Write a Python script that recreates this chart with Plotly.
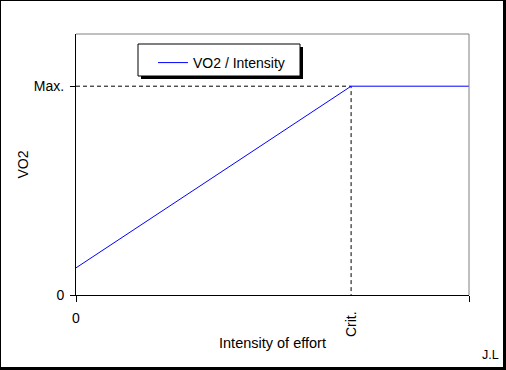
import plotly.graph_objects as go

# data (arbitrary units)
intensity = [0, 7, 10]
vo2 = [1.3, 10, 10]
guide_x = [0, 7, 7]
guide_y = [10, 10, 0]
ytick_vals = [0, 10]
ytick_text = ["0", "Max."]
xtick_vals = [0, 10]
xtick_text = ["0", ""]
crit_x = 7

W, H = 506, 370
L, R, T, B = 76, 469, 34, 295

def px(x):
    return (x - L) / (R - L)

def py(y):
    return (B - y) / (B - T)

FONT = "Liberation Sans, Arial, sans-serif"

fig = go.Figure()
fig.add_trace(go.Scatter(x=guide_x, y=guide_y, mode="lines",
                         line=dict(color="black", width=1, dash="4px,3px"),
                         showlegend=False, hoverinfo="skip"))
fig.add_trace(go.Scatter(x=intensity, y=vo2, mode="lines", name="VO2 / Intensity",
                         line=dict(color="#0000FF", width=1)))

shapes = [
    # white card inside black frame (paper is black)
    dict(type="rect", xref="paper", yref="paper", x0=px(1), x1=px(503), y0=py(1), y1=py(367),
         fillcolor="white", line=dict(width=0), layer="below"),
    # top & right gray borders
    dict(type="line", xref="paper", yref="paper", x0=0, x1=1, y0=1, y1=1,
         line=dict(color="#808080", width=1)),
    dict(type="line", xref="paper", yref="paper", x0=1, x1=1, y0=0, y1=1,
         line=dict(color="#808080", width=1)),
    # legend shadow + box
    dict(type="rect", xref="paper", yref="paper", x0=px(141), x1=px(303), y0=py(47), y1=py(79),
         fillcolor="black", line=dict(width=0)),
    dict(type="rect", xref="paper", yref="paper", x0=px(138), x1=px(300), y0=py(44), y1=py(76),
         fillcolor="white", line=dict(color="black", width=1)),
]

fig.update_layout(
    width=W, height=H,
    margin=dict(l=L, r=W - R, t=T, b=H - B),
    paper_bgcolor="black", plot_bgcolor="white",
    font=dict(family=FONT, size=14, color="black"),
    showlegend=True,
    legend=dict(x=px(153), y=py(47), xanchor="left", yanchor="top",
                bgcolor="rgba(0,0,0,0)", borderwidth=0, font=dict(size=14)),
    shapes=shapes,
    xaxis=dict(range=[0, 10], showgrid=False, zeroline=False, showline=True,
               linecolor="black", linewidth=1, ticks="outside", ticklen=6,
               tickcolor="black", tickvals=xtick_vals, ticktext=xtick_text,
               ticklabelstandoff=4, tickfont=dict(size=14),
               title=dict(text="Intensity of effort", font=dict(size=14.5), standoff=13)),
    yaxis=dict(range=[0, 12.5], showgrid=False, zeroline=False, showline=True,
               linecolor="black", linewidth=1, ticks="outside", ticklen=5,
               tickcolor="black", tickvals=ytick_vals, ticktext=ytick_text,
               ticklabelstandoff=3, tickfont=dict(size=14),
               title=dict(text="VO2", font=dict(size=14), standoff=1)),
    annotations=[
        dict(x=crit_x, xref="x", y=py(324), yref="paper", text="Crit.", textangle=-90,
             showarrow=False, font=dict(size=14), xanchor="center", yanchor="middle"),
        dict(x=px(490), y=py(355), xref="paper", yref="paper", text="J.L", showarrow=False,
             font=dict(size=12.5), xanchor="center", yanchor="middle"),
    ],
)

fig.write_html("out.html", config={"displayModeBar": False},
               post_script="document.body.style.margin='0';document.body.style.overflow='hidden';")
